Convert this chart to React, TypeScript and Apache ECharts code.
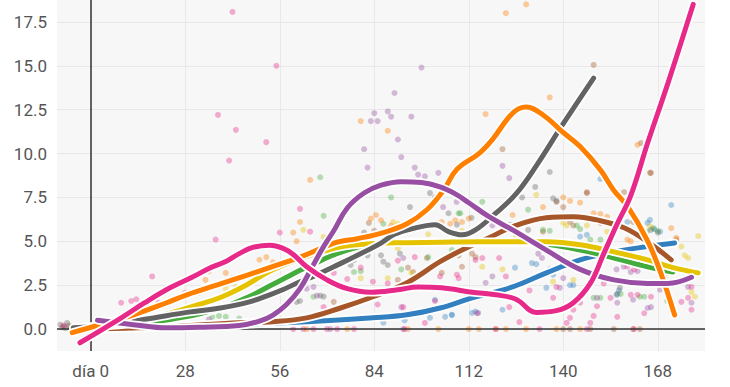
import React, { useEffect, useRef } from "react";
import * as echarts from "echarts";

const xTicks = [0, 28, 56, 84, 112, 140, 168];
const yTicks = [0, 2.5, 5, 7.5, 10, 12.5, 15, 17.5];

const colors = {
  pink: "#e7298a",
  orange: "#ff7f00",
  yellow: "#e6c300",
  green: "#44ac3c",
  gray: "#636363",
  purple: "#984ea3",
  brown: "#a65628",
  blue: "#3380c0",
};

// smoothed trend lines [day, value]
const pinkLine = [[-3.2,-0.78],[8.7,0.6],[16,1.5],[23.5,2.35],[30,2.95],[35,3.45],[40,3.85],[44,4.3],[48,4.65],[53,4.78],[57,4.6],[60,4.25],[64,3.55],[70,2.8],[76,2.3],[83,2.1],[91,2.24],[97,2.4],[104,2.35],[113,2.1],[120,1.95],[126,1.7],[132,0.95],[138,1.05],[143,1.5],[148,2.6],[152,4.3],[156,6.0],[160,7.6],[165,10.6],[171,14.0],[178.5,18.5]];
const orangeLine = [[-5.5,-0.2],[2.8,0.25],[12.5,0.8],[22.5,1.5],[28.5,1.95],[38,2.55],[46,3.05],[53,3.5],[62,4.1],[73,4.95],[79,5.15],[86.7,5.5],[93.7,6.0],[99.6,6.8],[104.5,7.9],[108.5,9.1],[115,10.0],[119,10.8],[125,12.3],[129,12.65],[134,12.2],[140,11.2],[145,10.4],[151,9.07],[155,7.9],[159,7.0],[164.8,5.1],[168.7,3.3],[173,0.8]];
const yellowLine = [[-5,0.05],[0,0.13],[12.6,0.4],[23.5,0.9],[32,1.4],[38.4,1.8],[46,2.5],[53,3.3],[62,4.0],[66,4.25],[71,4.55],[76,4.75],[84,4.88],[94,4.92],[104,4.95],[115,4.97],[125,4.97],[135,4.97],[145,4.8],[155,4.4],[165,3.94],[172.5,3.5],[180,3.2]];
const greenLine = [[-5,0.05],[0,0.1],[12,0.3],[23.5,0.55],[32,0.85],[40,1.3],[47,1.85],[53,2.45],[58,2.95],[62,3.35],[66,3.7],[71,4.15],[76,4.5],[81,4.75],[91,4.95],[103.5,4.97],[115,4.9],[130,4.9],[145,4.5],[155,4.05],[165,3.55],[172.5,3.25]];
const grayLine = [[-5.2,0.07],[5.7,0.25],[17.6,0.6],[28.5,0.95],[38.4,1.2],[47,1.55],[53,1.95],[57,2.25],[62,2.7],[66,3.0],[72,3.55],[79,4.2],[86,4.9],[90,5.4],[96,5.75],[102,5.95],[106,5.55],[110,5.37],[114,5.65],[120,6.6],[126,7.7],[132,9.3],[140,11.7],[149,14.3]];
const purpleLine = [[2,0.5],[12.6,0.25],[22.6,0.07],[32,0.1],[44,0.2],[50,0.45],[54,0.8],[58,1.4],[62,2.3],[65.5,3.5],[69,4.7],[72,5.6],[76,6.9],[81,7.75],[86,8.2],[92,8.4],[98,8.35],[103.5,8.1],[108,7.7],[112,7.2],[118,6.4],[125,5.65],[135,4.5],[145,3.4],[155,2.8],[165,2.6],[171,2.6],[178,2.95]];
const brownLine = [[-5,0.0],[10,0.05],[25,0.15],[44,0.36],[54,0.42],[64,0.64],[74,1.2],[83.6,1.84],[93.7,2.64],[103.5,3.84],[110,4.5],[118,5.2],[125,5.83],[135,6.34],[143,6.4],[150,6.22],[158,5.77],[165,4.97],[172,3.94]];
const blueLine = [[-5,0.0],[10,0.05],[25,0.1],[44,0.25],[64,0.42],[83.6,0.64],[93.7,0.81],[103.5,1.2],[113,1.78],[125,2.4],[135,3.2],[145,3.94],[155,4.4],[165,4.7],[173,4.9]];

// observed points [day, value]
const pinkPts = [[-8,0.2],[9,1.5],[12,1.6],[13.5,1.7],[18.2,3.0],[20,1.5],[27.9,2.07],[30,2.1],[37,5.1],[37.7,12.2],[41,9.6],[42,18.07],[43,11.35],[52,10.65],[55,15.0],[56,5.5],[62,6.85],[65,5.55],[69,1.25],[76,2.85],[83.6,2.7],[85,1.4],[91,3.9],[92.6,1.25],[94,4.9],[95.5,2.9],[96,4.1],[99.6,2.4],[99,0.35],[103.5,3.0],[108.5,3.1],[109,2.9],[114,3.94],[114.5,0.9],[116,4.05],[121,4.05],[123,3.0],[124,1.25],[127,0.4],[137,1.78],[138,2.4],[141,0.35],[142,0.64],[143,1.1],[145,1.5],[148,0.35],[149,0.75],[150,1.3],[154,1.78],[156,0.7],[159,3.55],[160,1.95],[161,3.4],[162,1.95],[164,0.9],[166,1.84],[175,1.55],[177,1.78],[178,2.4],[178,1.1],[60,0],[63,0],[66,0],[70,0],[73,0],[78,0],[93,0],[120,0],[133,0],[147,0],[161,0],[72,3.2],[80,3.5],[88,2.6],[102,1.6],[130,2.2],[152,2.6],[170,2.9]];
const orangePts = [[23.5,1.67],[25,1.75],[32,2.07],[35,3.3],[34,2.8],[40,3.2],[42,2.9],[50,3.95],[52,4.1],[54,3.8],[60,5.5],[61,5.0],[62,6.1],[65,8.5],[74,3.84],[80,11.85],[83,6.3],[84.5,6.5],[86,6.2],[88,11.3],[89,5.9],[96,5.8],[100,5.95],[104,6.1],[106.5,6.0],[108,6.2],[110,6.1],[112,6.3],[117,12.25],[123,18.0],[125,6.5],[129,18.5],[134,6.95],[136,13.2],[140,7.5],[142,7.3],[145,7.2],[149,6.6],[151,6.55],[153,6.4],[159,5.1],[160,5.0],[162,10.5],[171,3.2],[172,5.75],[173.5,5.2],[64,0],[76,0],[94,0],[103,0],[112,0],[115,0],[120,0],[123,0],[129,0],[138,0],[145,0]];
const yellowPts = [[40,2.3],[43,2.4],[63,5.65],[69,5.25],[80,2.9],[88,2.9],[89.6,6.1],[91,6.0],[91,4.6],[95,3.2],[95.5,5.65],[100,5.4],[116,3.55],[122,3.4],[132,7.65],[137,2.7],[140,6.05],[141,5.9],[143,2.8],[147,5.9],[153,5.55],[165.7,5.85],[175,4.7],[176,4.2],[177,4.05],[179,1.84],[178,2.1],[180,5.3],[110,5.6],[126,5.3]];
const greenPts = [[36,0.7],[38,0.75],[40,0.7],[44,0.6],[66,1.84],[68,8.65],[69,6.45],[74,6.2],[78,3.25],[80,3.3],[86.7,6.0],[89,7.5],[92,3.4],[100,4.1],[107,4.5],[109,6.6],[109.5,6.6],[116,7.25],[124.8,5.75],[129.6,6.8],[134,5.65],[136,5.6],[144,5.9],[145,5.7],[148,5.1],[149,1.78],[151,5.1],[151,1.78],[157,2.0],[159,5.65],[162.7,1.84],[164,1.84],[164.8,5.55],[166.6,5.75],[168,5.6],[170.8,1.6]];
const grayPts = [[-9,0.25],[-8,0.15],[-7,0.35],[-6,0.1],[-7.5,0.05],[26,1.1],[28,1.15],[61,1.55],[62,1.6],[68,1.9],[69,1.85],[77,3.65],[78,3.94],[81,5.5],[82,4.2],[86,4.2],[86.7,3.84],[88,3.65],[91.6,4.3],[94.6,6.95],[100.5,7.75],[102,7.5],[106,6.6],[108.5,5.95],[112.8,6.34],[124.3,5.94],[127.8,7.5],[129.6,5.65],[131.7,8.1],[136,8.95],[137,7.45],[138,7.3],[156.8,2.35],[156,2.0],[166,5.65],[168,5.5]];
const purplePts = [[98,14.9],[90,13.45],[84,12.3],[88,12.4],[89,12.1],[83,11.85],[85,11.85],[95,12.1],[91,10.8],[81,10.25],[92,9.8],[82,9.2],[96,9.2],[97,8.8],[99,8.7],[103,8.9],[122,9.3],[124,8.6],[25,0.6],[30,0.7],[35,0.55],[63,2.4],[64,2.3],[66,2.4],[67,1.9],[92.6,4.05],[104.4,6.95],[108.4,7.25],[117,2.64],[119,3.0],[120,6.1],[119,5.9],[129.6,2.8],[132.6,4.3],[133.7,4.05],[139,2.35],[140,2.9],[150,1.78],[155.8,3.4],[156,1.5],[157.9,3.55],[160,3.25],[160.7,1.67],[162,3.3],[165,1.2],[166,1.25],[168.7,2.24],[177,2.4],[178,1.5],[92,1.25],[71,0],[92.6,0]];
const brownPts = [[-8.5,0.1],[-6.5,0.2],[149,15.05],[122,10.25],[163,10.6],[166,8.9],[147,7.8],[158,7.8],[72,1.55],[82,5.35],[82.4,6.05],[84,5.6],[91,2.8],[92,2.5],[94,3.5],[95.5,3.25],[99.6,4.05],[104,3.2],[109,4.2],[110,3.55],[113,4.3],[114,4.1],[134,5.55],[138,7.25],[140,6.95],[142,6.1],[143,5.9],[147,7.75],[151,6.05],[154.4,5.27],[160.7,6.1],[162,6.2],[165.7,8.9],[173.5,5.1],[140,0],[142,0],[148,0],[160.7,0],[162.7,0],[155,0]];
const bluePts = [[86.7,0.36],[93,0.5],[100.5,0.64],[102,1.67],[105,0.7],[107,0.8],[107,0.81],[111.4,1.84],[113,0.92],[114,1.0],[114.8,0.92],[122,1.1],[125.7,3.5],[130.7,3.76],[132,3.7],[135,2.35],[136,3.4],[137,3.1],[142,2.5],[143,2.5],[145,5.27],[147,5.37],[151,8.55],[155.8,1.95],[156.5,2.2],[159,6.1],[165,6.05],[165.7,6.22],[167,5.7],[168.7,5.55],[172,7.07]];

const groups = [
  { name: "blue", line: blueLine, pts: bluePts },
  { name: "brown", line: brownLine, pts: brownPts },
  { name: "green", line: greenLine, pts: greenPts },
  { name: "yellow", line: yellowLine, pts: yellowPts },
  { name: "gray", line: grayLine, pts: grayPts },
  { name: "orange", line: orangeLine, pts: orangePts },
  { name: "purple", line: purpleLine, pts: purplePts },
  { name: "pink", line: pinkLine, pts: pinkPts },
];

export default function App() {
  const ref = useRef<HTMLDivElement>(null);
  useEffect(() => {
    if (!ref.current) return;
    const chart = echarts.init(ref.current, null, { renderer: "svg" });
    const font = "Roboto, 'Noto Sans', sans-serif";
    const series: any[] = [];
    groups.forEach((g) => {
      series.push({
        type: "scatter",
        data: g.pts,
        symbolSize: 6,
        itemStyle: { color: (colors as any)[g.name], opacity: 0.38 },
        silent: true,
        z: 1,
      });
    });
    series.push({
      type: "line",
      data: [],
      silent: true,
      z: 2,
      markLine: {
        silent: true,
        symbol: ["none", "none"],
        label: { show: false },
        lineStyle: { color: "#333", width: 1.5, type: "solid" },
        data: [{ xAxis: 0 }, { yAxis: 0 }],
      },
    });
    groups.forEach((g, i) => {
      series.push({
        type: "line",
        data: g.line,
        showSymbol: false,
        smooth: 0.4,
        silent: true,
        z: 10 + i * 2,
        lineStyle: { color: "#ffffff", width: 8.5, cap: "round", join: "round" },
      });
      series.push({
        type: "line",
        data: g.line,
        showSymbol: false,
        smooth: 0.4,
        silent: true,
        z: 11 + i * 2,
        lineStyle: { color: (colors as any)[g.name], width: 5, cap: "round", join: "round" },
      });
    });
    chart.setOption({
      animation: false,
      backgroundColor: "#ffffff",
      grid: {
        left: 57,
        right: 25,
        top: 0,
        bottom: 36,
        show: true,
        backgroundColor: "#f7f7f7",
        borderWidth: 0,
      },
      xAxis: {
        type: "value",
        min: -10,
        max: 182,
        axisLine: { show: false },
        axisTick: { show: false, customValues: xTicks },
        axisLabel: {
          customValues: xTicks,
          formatter: (v: number) => (v === 0 ? "día 0" : String(v)),
          color: "#555",
          fontSize: 17,
          fontFamily: font,
          margin: 11,
        },
        splitLine: { show: true, lineStyle: { color: "#e8e8e8", width: 1 } },
      },
      yAxis: {
        type: "value",
        min: -1.25,
        max: 18.75,
        axisLine: { show: false },
        axisTick: { show: false, customValues: yTicks },
        axisLabel: {
          customValues: yTicks,
          formatter: (v: number) => v.toFixed(1),
          color: "#555",
          fontSize: 17,
          fontFamily: font,
          margin: 10,
        },
        splitLine: { show: true, lineStyle: { color: "#e8e8e8", width: 1 } },
      },
      series,
    });
    return () => chart.dispose();
  }, []);
  return (
    <div
      ref={ref}
      style={{ position: "absolute", left: 0, top: 0, width: 730, height: 387 }}
    />
  );
}
